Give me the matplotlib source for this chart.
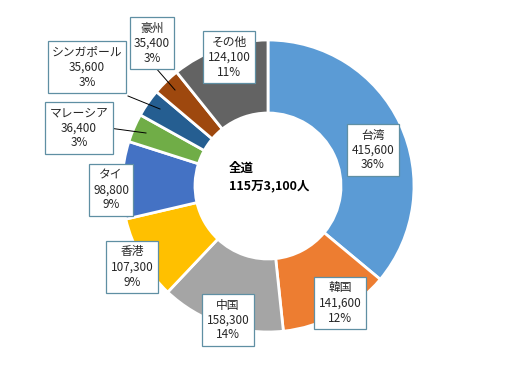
import matplotlib
matplotlib.use("Agg")
import matplotlib.pyplot as plt

plt.rcParams['font.family'] = ['Noto Sans CJK JP', 'DejaVu Sans']

# data
countries = ["台湾", "韓国", "中国", "香港", "タイ", "マレーシア", "シンガポール", "豪州", "その他"]
visitors = [415600, 141600, 158300, 107300, 98800, 36400, 35600, 35400, 124100]
percents = ["36%", "12%", "14%", "9%", "9%", "3%", "3%", "3%", "11%"]
total_label = "全道\n115万3,100人"

colors = ["#5B9BD5", "#ED7D31", "#A5A5A5", "#FFC000", "#4472C4",
          "#70AD47", "#255E91", "#9E480E", "#636363"]

# label box centres in pixel coords (x, y from top) and optional leader line ends
label_pos = [(373, 150), (340, 303), (228, 320), (132, 267), (111, 190),
             (79, 128), (87, 67), (152, 43), (229, 57)]
leaders = {5: ((109, 128), (146, 133)),
           6: ((128, 96), (160, 109)),
           7: ((155, 67), (175, 90))}

W, H = 530, 367
fig = plt.figure(figsize=(W / 100, H / 100), dpi=100)
ax = fig.add_axes([0, 0, 1, 1])

cx, cy, r = 268, H - 186, 146
ax.pie(visitors, colors=colors, startangle=90, counterclock=False,
       center=(cx, cy), radius=r, frame=True,
       wedgeprops=dict(width=r * 0.5, edgecolor="white", linewidth=2))
ax.set_xlim(0, W)
ax.set_ylim(0, H)
ax.axis("off")

for i, (name, v, p) in enumerate(zip(countries, visitors, percents)):
    x, y = label_pos[i]
    if i in leaders:
        (x0, y0), (x1, y1) = leaders[i]
        ax.plot([x0, x1], [H - y0, H - y1], color="black", lw=0.7, zorder=3)
    ax.text(x, H - y, f"{name}\n{v:,}\n{p}", ha="center", va="center",
            fontsize=8.5, color="#262626", linespacing=1.2, zorder=4,
            bbox=dict(boxstyle="square,pad=0.35", fc="white",
                      ec="#5f8fa3", lw=0.9))

ax.text(229, H - 177, total_label, ha="left", va="center", fontsize=9,
        fontweight="bold", color="black", linespacing=1.4)

fig.savefig("out.png", dpi=100)
